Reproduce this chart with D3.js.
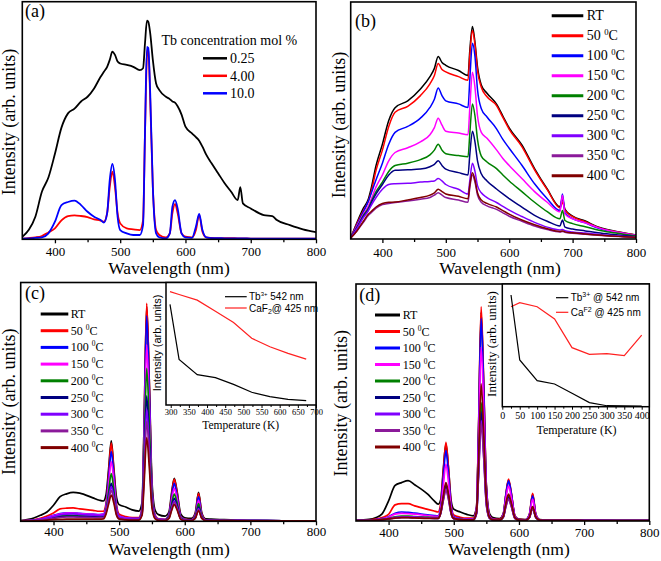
<!DOCTYPE html>
<html><head><meta charset="utf-8">
<script src="https://cdn.jsdelivr.net/npm/d3@7"></script>
<style>body{margin:0;background:#fff}svg{display:block}</style>
</head><body>
<svg id="chart" width="661" height="561"></svg>
<script>
// ---------- DATA ----------
const xTicks = [400, 500, 600, 700, 800];
const xMinor = [450, 550, 650, 750];
const concLabels = ["0.25", "4.00", "10.0"];
const concColors = ["#000000", "#ff0000", "#0000ff"];
const tempLabels = ["RT", "50", "100", "150", "200", "250", "300", "350", "400"];
const tempColors = ["#000000", "#ff0000", "#0000ff", "#ff00ff", "#008000", "#000080", "#8000ff", "#8b1a9a", "#800000"];

// panel (a)
const wlA = [350,360,370,380,390,400,410,420,430,440,450,460,470,475,480,484,488,492,496,500,510,520,530,535,538,541,543,546,550,555,560,570,576,580,584,588,594,600,610,616,621,626,632,640,650,660,670,680,684,688,700,720,733,740,760,780,800];
const a025 = [1,4,9.5,20,26,36,47,53,55,58,60,63.5,68.4,70.5,72.6,75.5,79,77.6,74.8,74,73.4,72.6,71.2,72,82.5,92,91.6,86.7,75.5,65.6,62.8,60,59,58,57.5,56,52.5,47.4,44.6,43,41.5,39,35.5,32,27.8,23.6,20,16.5,22,15.1,13,10.2,9.8,8.1,6,4.2,3];
const a400 = [0.3,0.5,0.8,1.4,2.9,4.6,8,9.8,10.1,9.8,9.3,8.4,7.9,7.4,11,22,28.5,22,11,6.7,4.6,4.2,3.9,8,44.6,76.9,80.4,58.6,22,3.9,1.8,0.8,2.5,11,14.9,11,2.5,1.1,0.8,3.9,10.2,3.2,0.8,0.6,0.5,0.5,0.5,0.4,0.4,0.4,0.3,0.3,0.3,0.3,0.3,0.3,0.3];
const a100 = [0.3,0.4,0.6,0.8,2.5,7.4,14.4,15.7,16.3,14.4,11.6,9.5,8.1,7,11,25,31.7,25,9.5,3.9,2.5,1.8,1.8,6,45,81,80.5,61.4,22,2.5,0.8,0.4,2.5,13.7,16.5,13,2.5,0.8,0.6,5.3,10.7,3.9,0.8,0.5,0.5,0.4,0.4,0.4,0.4,0.4,0.3,0.3,0.3,0.3,0.3,0.3,0.3];

// panel (b)
const wlB = [350,360,370,378,382,390,400,410,420,440,460,475,482,488,494,500,520,535,538,542,546,550,556,565,580,590,600,620,640,660,680,684,688,700,720,740,760,780,800];
const bRT  = [0.4,7,13,17,21,31,40,50,55.4,58.3,63.3,68.5,72,77,74.5,73.3,71.1,69,80,89.7,83,72.6,65,61.5,56.9,51.9,46.9,39.7,29.7,21.1,13.6,17,12.5,9.7,7.6,5.1,3.7,2.6,1.7];
const b50  = [0.4,6.5,12,16,19.5,29,37.5,47.5,53.5,56,60.5,65.5,69,74,71.5,70.5,68.5,67,78,88,82,71,64,60,56.3,51.3,46.3,39,29.2,20.8,13.2,15.5,12.2,9.4,7.3,4.9,3.5,2.5,1.6];
const b100 = [0.4,6,11.5,16,19,25,32,40,45,47.5,51,55.5,59,63.7,60.5,58.3,57,55.5,68,82.6,77,63,55,51.5,46.5,42,38.3,31.1,23.3,17,12,19,11,8.6,6.8,4.6,3.3,2.4,1.5];
const b150 = [0.4,5.5,10.5,14,16.5,22,27,33,36.5,38.5,41,44,47,51,48,45.5,44.7,44,56,70.4,64,52,45,42.5,37.6,34,31,25.5,20,15.5,11.5,18.5,10.5,8.5,6.8,4.8,3.4,2.4,1.5];
const b200 = [0.4,5,10,13,15.5,20,24,28.5,31,32,33.5,35.5,37.5,40,37.5,36,35.2,34.7,45,57,52,42,35,32.5,29.7,27,24.5,20,15.5,11.5,8.5,12,7.8,6.5,5.2,3.8,2.8,2,1.3];
const b250 = [0.4,4.8,9.5,12.5,15,19,23,27,29,29.2,29.5,30.5,31.5,33,31,29.5,28,27,36,45.5,41,33,27.5,24.5,21.1,19,17,13.5,10,7.5,5.5,8,5,4.2,3.4,2.6,2,1.5,1];
const b300 = [0.4,4.5,9,12,14,17.5,21,23,23.3,23.5,24,24.3,24.5,25.5,24.5,23,21,19,25,32,28.5,22.5,19.5,17.5,15.4,13.8,12.2,9.5,7,5,3.8,4,3.5,3,2.5,2,1.5,1.1,0.8];
const b350 = [0.4,3.5,7,10,11,13,14.5,15,15.4,16,16.8,17.5,18.5,19.5,18.5,17.5,16.5,15.5,22,27,24,18.5,15.5,14,12.5,11,9.6,7.5,5.5,4,3,3.2,2.8,2.4,2,1.6,1.2,0.9,0.6];
const b400 = [0.4,3.5,7.5,10.5,11.5,13.5,15,15.5,15.6,16.5,17.5,18.5,19.5,21,20,19,18,17,23,28,25,19.5,16.5,15,13.5,12,10.5,8,6,4.3,3.2,3.4,3,2.6,2.1,1.7,1.3,1,0.7];

// panels (c) and (d)
const wlCD = [350,370,380,390,400,410,420,430,440,460,470,476,480,484,488,492,496,500,510,520,530,535,538,542,546,550,555,560,570,576,580,584,588,594,600,610,616,621,626,632,640,660,680,700,750,800];
const cRT  = [0.3,1.4,2.5,3.9,6.7,10.3,11.5,12.1,11.8,9.8,8.8,8.5,11,22,33.7,22,10,7,6,4.8,4.3,8,40,90,58,17,4.5,2.8,2.2,4,12,18,13,3,1.5,1.2,3.5,12.1,3.5,1,0.9,0.7,0.5,0.3,0.2,0.2];
const c50  = [0.2,0.6,1.2,2.2,3.5,5.2,5.5,5.6,5.2,4.6,4.2,4.2,7.5,20,32.7,21,7,3,2,1.6,1.6,6,40,91.3,58,15,2.5,1,0.8,3,11,17.7,12.5,2,0.8,0.6,3,11.7,3,0.6,0.5,0.5,0.4,0.3,0.2,0.2];
const c100 = [0.2,0.5,0.9,1.6,2.5,3.2,3.5,3.5,3.3,3,2.8,3,6.5,18,29.2,19,6,2.2,1.4,1.2,1.2,5.5,37,86,55,14,2.2,0.9,0.7,2.8,10,15.9,11.2,1.8,0.7,0.5,2.6,10.3,2.6,0.5,0.5,0.4,0.4,0.3,0.2,0.2];
const c150 = [0.2,0.5,0.9,1.5,2.3,3,3.4,3.4,3.2,2.9,2.7,2.9,5.8,15.5,25,16.5,5.2,2,1.3,1.1,1.1,5,32,74,47,12,2,0.8,0.6,2.4,8.8,13.8,9.8,1.6,0.6,0.5,2.2,8.8,2.2,0.5,0.5,0.4,0.4,0.3,0.2,0.2];
const c200 = [0.2,0.4,0.7,1.1,1.7,2.2,2.5,2.5,2.4,2.2,2.1,2.2,4.8,12.5,20,13,4.2,1.6,1,0.9,0.9,4.3,28,64,41,10.5,1.7,0.7,0.5,2,7.3,11.4,8.1,1.3,0.5,0.4,1.9,7.4,1.9,0.4,0.4,0.4,0.3,0.3,0.2,0.2];
const c250 = [0.2,0.3,0.6,0.9,1.4,1.9,2.1,2.1,2,1.9,1.8,1.9,4,10,15.9,10.5,3.5,1.4,0.9,0.8,0.8,3.6,23,52.5,33.5,8.6,1.4,0.6,0.5,1.7,6.2,9.6,6.8,1.1,0.4,0.4,1.6,6,1.6,0.4,0.4,0.3,0.3,0.3,0.2,0.2];
const c300 = [0.2,0.4,0.8,1.3,2,2.7,3,3.1,2.9,2.6,2.5,2.6,4.3,9.5,14.5,9.8,3.8,1.8,1.2,1,1,3.5,21,47,30,7.8,1.6,0.7,0.5,1.6,5.5,8.4,6,1,0.5,0.4,1.4,5.3,1.4,0.4,0.4,0.3,0.3,0.3,0.2,0.2];
const c350 = [0.1,0.3,0.5,0.8,1.2,1.6,1.8,1.8,1.7,1.6,1.5,1.6,3.6,8.5,13,8.8,3,1.2,0.8,0.7,0.7,3,18.5,42,27,7,1.2,0.5,0.4,1.4,5.1,7.9,5.6,0.9,0.4,0.3,1.3,4.9,1.3,0.3,0.3,0.3,0.3,0.2,0.2,0.2];
const c400 = [0.1,0.2,0.3,0.5,0.7,0.8,0.9,0.9,0.9,0.9,0.9,1,3,7.2,11,7.5,2.5,0.9,0.6,0.5,0.5,2.6,15.5,35,22.5,5.8,1,0.4,0.3,1.2,4.5,7,5,0.8,0.3,0.3,1.2,4.4,1.2,0.3,0.3,0.3,0.2,0.2,0.2,0.2];

const dRT  = [0.3,0.7,1.4,3,8.5,15,16.2,17,15.3,11.3,8.5,7.1,9,22,32.5,22,8.5,5,3.8,2.8,2.2,6,38,88,56,15,3,1.5,1,3,11,17.2,12,2,0.8,0.6,2.5,11.2,2.5,0.6,0.5,0.5,0.4,0.3,0.2,0.2];
const d50  = [0.2,0.4,0.8,1.5,2.8,6.8,7.3,7.3,6.4,4.9,4.2,3.8,7.5,21,33.2,22,7,2.5,1.6,1.2,1.2,6,39,90.4,58,15,2.3,0.9,0.7,3,11.5,17.7,12.5,2,0.7,0.5,2.8,11.7,2.8,0.5,0.5,0.5,0.4,0.3,0.2,0.2];
const d100 = [0.2,0.3,0.6,1,1.8,3.3,3.8,3.6,3.3,2.6,2.3,2.2,6,18.5,29.7,19.5,6,1.8,1,0.8,0.8,5.5,37,85.5,55,14,2,0.7,0.5,2.8,11,16.9,12,1.8,0.6,0.5,2.6,10.6,2.6,0.5,0.4,0.4,0.3,0.3,0.2,0.2];
const d150 = [0.2,0.3,0.5,0.9,1.6,2.9,3.2,3.1,2.9,2.3,2,2,5,15,24,16,5,1.5,0.9,0.7,0.7,5,32,73.4,47,12,1.8,0.6,0.5,2.5,9.5,14.8,10.5,1.6,0.5,0.4,2.3,9.2,2.3,0.5,0.4,0.4,0.3,0.3,0.2,0.2];
const d200 = [0.2,0.3,0.4,0.7,1.1,1.8,2.1,2.1,1.9,1.6,1.4,1.4,3.6,10,15.5,10.5,3.4,1.1,0.7,0.5,0.5,3.6,22,50,32,8.2,1.3,0.5,0.4,1.8,7,10.6,7.4,1.2,0.4,0.3,1.5,5.6,1.5,0.4,0.3,0.3,0.3,0.2,0.2,0.2];
const d250 = [0.2,0.3,0.4,0.6,0.9,1.3,1.5,1.5,1.4,1.2,1.1,1.1,3.5,9.6,15,10.2,3.3,1,0.6,0.5,0.5,3.4,20.5,46,29.5,7.6,1.2,0.5,0.4,1.7,6.6,10,7,1.1,0.4,0.3,1.4,5.5,1.4,0.4,0.3,0.3,0.3,0.2,0.2,0.2];
const d300 = [0.2,0.3,0.4,0.6,1,1.5,1.8,1.8,1.7,1.4,1.3,1.3,3.3,8.9,13.4,9.2,3.1,1,0.6,0.5,0.5,3.2,19,42.4,27,7,1.1,0.5,0.4,1.6,6.2,9.2,6.5,1,0.4,0.3,1.4,5.5,1.4,0.4,0.3,0.3,0.3,0.2,0.2,0.2];
const d350 = [0.2,0.3,0.4,0.6,0.9,1.3,1.5,1.5,1.4,1.2,1.1,1.1,3.2,8.7,13,8.9,3,1,0.6,0.5,0.5,3.1,18.5,41,26.5,6.8,1.1,0.5,0.4,1.6,6,9,6.4,1,0.4,0.3,1.4,5.4,1.4,0.4,0.3,0.3,0.3,0.2,0.2,0.2];
const d400 = [0.2,0.3,0.4,0.6,0.9,1.2,1.4,1.4,1.3,1.1,1.1,1.1,3.6,10.5,16.2,11,3.5,1.1,0.6,0.5,0.5,4,25,57.9,37,9.5,1.4,0.5,0.4,1.9,7.4,11.3,7.9,1.3,0.4,0.3,1.6,6.1,1.6,0.4,0.3,0.3,0.3,0.2,0.2,0.2];

// insets
const insetTempC = [298,323,373,423,473,523,573,623,673];
const insetTbC   = [82.1,37.2,24.8,22.3,16.8,10.4,6.9,4.6,3.6];
const insetCaC   = [92.6,90.2,85.6,76.5,67.4,54.5,47.6,42.1,37.4];
const insetTicksC = [300,350,400,450,500,550,600,650,700];
const insetTempD = [25,50,100,150,200,250,300,350,400];
const insetTbD   = [91,38.1,21.2,18.5,11,3.3,0.8,0.6,0.5];
const insetCaD   = [81.5,84.8,81.5,71.5,48.1,42.7,43.2,41.6,58.4];
const insetTicksD = [0,50,100,150,200,250,300,350,400];

// ---------- DRAW ----------
const SERIF = "'Liberation Serif','Times New Roman',serif";
const SANS = "'Liberation Sans',Arial,sans-serif";
const svg = d3.select("#chart");
svg.append("rect").attr("width",661).attr("height",561).attr("fill","#fff");

function drawPanel(c) {
  const x = d3.scaleLinear().domain([350, 800]).range([c.x0, c.x1]);
  const y = d3.scaleLinear().domain([0, 100]).range([c.y1, c.y0]);
  const g = svg.append("g");
  g.append("clipPath").attr("id", "clip" + c.id).append("rect")
    .attr("x", c.x0).attr("y", c.y0).attr("width", c.x1 - c.x0).attr("height", c.y1 - c.y0);
  const lg = g.append("g").attr("clip-path", `url(#clip${c.id})`);
  const line = d3.line().x((d, j) => x(c.wl[j])).y(d => y(d)).curve(d3.curveMonotoneX);
  c.series.forEach((s, i) => {
    lg.append("path").datum(s).attr("d", line).attr("fill", "none")
      .attr("stroke", c.colors[i]).attr("stroke-width", c.sw || 1.7).attr("stroke-linejoin", "round");
  });
  const ax = g.append("g").attr("transform", `translate(0,${c.y1})`)
    .call(d3.axisBottom(x).tickValues(xTicks).tickSize(4).tickSizeOuter(0));
  ax.select(".domain").remove();
  ax.selectAll("line").attr("stroke", "#000").attr("stroke-width", 1.3);
  ax.selectAll("text").attr("font-family", SERIF).attr("font-size", 13).attr("fill", "#000")
    .attr("y", c.tickY - c.y1).attr("dy", null);
  const mx = g.append("g").attr("transform", `translate(0,${c.y1})`)
    .call(d3.axisBottom(x).tickValues(xMinor).tickSize(3).tickFormat(""));
  mx.select(".domain").remove();
  mx.selectAll("line").attr("stroke", "#000").attr("stroke-width", 1.3);
  g.append("rect").attr("x", c.x0).attr("y", c.y0).attr("width", c.x1 - c.x0).attr("height", c.y1 - c.y0)
    .attr("fill", "none").attr("stroke", "#000").attr("stroke-width", 1.6);
  g.append("text").attr("x", c.titleX).attr("y", c.titleY).attr("text-anchor", "middle")
    .attr("font-family", SERIF).attr("font-size", 17.5).text("Wavelength (nm)");
  g.append("text").attr("transform", `translate(${c.yTitleX},${c.yTitleY}) rotate(-90)`)
    .attr("text-anchor", "middle").attr("font-family", SERIF).attr("font-size", 18).text("Intensity (arb. units)");
  g.append("text").attr("x", c.labelX).attr("y", c.labelY).attr("font-family", SERIF)
    .attr("font-size", 18).text(c.label);
  return g;
}

function tempLegend(g, lx0, lx1, tx, ys, dy, fs) {
  tempLabels.forEach((t, i) => {
    const yy = ys + i * dy;
    g.append("line").attr("x1", lx0).attr("x2", lx1).attr("y1", yy).attr("y2", yy)
      .attr("stroke", tempColors[i]).attr("stroke-width", 3);
    const tt = g.append("text").attr("x", tx).attr("y", yy + fs * 0.34)
      .attr("font-family", SERIF).attr("font-size", fs);
    if (t === "RT") tt.text("RT");
    else {
      tt.append("tspan").text(t + " ");
      tt.append("tspan").attr("font-size", fs * 0.62).attr("dy", -fs * 0.42).text("0");
      tt.append("tspan").attr("dy", fs * 0.42).text("C");
    }
  });
}

function drawInset(c) {
  const g = svg.append("g");
  const x = d3.scaleLinear().domain(c.domain).range([c.x0, c.x1]);
  const y = d3.scaleLinear().domain([0, 100]).range([c.y1, c.y0]);
  g.append("rect").attr("x", c.x0).attr("y", c.y0).attr("width", c.x1 - c.x0).attr("height", c.y1 - c.y0)
    .attr("fill", "#fff").attr("stroke", "#000").attr("stroke-width", 1.5);
  const line = d3.line().x((d, j) => x(c.temps[j])).y(d => y(d));
  g.append("path").datum(c.ca).attr("d", line).attr("fill", "none").attr("stroke", "#ff2020").attr("stroke-width", 1.2);
  g.append("path").datum(c.tb).attr("d", line).attr("fill", "none").attr("stroke", "#000").attr("stroke-width", 1.2);
  const ax = g.append("g").attr("transform", `translate(0,${c.y1})`)
    .call(d3.axisBottom(x).tickValues(c.ticks).tickSize(3).tickSizeOuter(0));
  ax.select(".domain").remove();
  ax.selectAll("line").attr("stroke", "#000");
  ax.selectAll("text").attr("font-family", SERIF).attr("font-size", c.tickFs).attr("fill", "#000")
    .attr("y", c.tickY - c.y1).attr("dy", null);
  const mx = g.append("g").attr("transform", `translate(0,${c.y1})`)
    .call(d3.axisBottom(x).tickValues(c.ticks.slice(0, -1).map(v => v + 25)).tickSize(2).tickFormat(""));
  mx.select(".domain").remove();
  mx.selectAll("line").attr("stroke", "#000");
  g.append("text").attr("x", c.titleX).attr("y", c.titleY).attr("text-anchor", "middle")
    .attr("font-family", SERIF).attr("font-size", c.titleFs).text("Temperature (K)");
  g.append("text").attr("transform", `translate(${c.yTitleX},${c.yTitleY}) rotate(-90)`)
    .attr("text-anchor", "middle").attr("font-family", c.yTitleFont).attr("font-size", c.yTitleFs)
    .text("Intensity (arb. units)");
  // legend
  [["#000", c.ly0], ["#ff2020", c.ly1]].forEach(([col, yy]) => {
    g.append("line").attr("x1", c.lx0).attr("x2", c.lx1).attr("y1", yy).attr("y2", yy)
      .attr("stroke", col).attr("stroke-width", 1.2);
  });
  const t1 = g.append("text").attr("x", c.tx).attr("y", c.ly0 + 3.5).attr("font-family", SANS).attr("font-size", 10);
  t1.append("tspan").text("Tb");
  t1.append("tspan").attr("font-size", c.supFs).attr("dy", -4).text("3+");
  t1.append("tspan").attr("dy", 4).text(c.tbText);
  const t2 = g.append("text").attr("x", c.tx).attr("y", c.ly1 + 3.5).attr("font-family", SANS).attr("font-size", 10);
  c.caParts(t2);
}

// (a)
const gA = drawPanel({id: "a", x0: 22.3, x1: 316, y0: 1.7, y1: 239.3, wl: wlA,
  series: [a025, a400, a100], colors: concColors, sw: 1.8,
  tickY: 256.5, titleX: 169, titleY: 274, yTitleX: 14.5, yTitleY: 122, label: "(a)", labelX: 25, labelY: 17});
gA.append("text").attr("x", 161.5).attr("y", 45).attr("font-family", SERIF).attr("font-size", 14)
  .text("Tb concentration mol %");
concLabels.forEach((t, i) => {
  const yy = 58.3 + i * 17.5;
  gA.append("line").attr("x1", 203).attr("x2", 227).attr("y1", yy).attr("y2", yy)
    .attr("stroke", concColors[i]).attr("stroke-width", 2.5);
  gA.append("text").attr("x", 230).attr("y", yy + 5).attr("font-family", SERIF).attr("font-size", 14).text(t);
});

// (b)
const gB = drawPanel({id: "b", x0: 350.7, x1: 636, y0: 2, y1: 239, wl: wlB,
  series: [bRT, b50, b100, b150, b200, b250, b300, b350, b400], colors: tempColors, sw: 1.5,
  tickY: 256.5, titleX: 500, titleY: 274, yTitleX: 344.5, yTitleY: 125, label: "(b)", labelX: 355, labelY: 27});
tempLegend(gB, 551.7, 583.3, 586.7, 15.7, 20, 14);

// (c)
const gC = drawPanel({id: "c", x0: 20.7, x1: 316, y0: 282.5, y1: 521.3, wl: wlCD,
  series: [cRT, c50, c100, c150, c200, c250, c300, c350, c400], colors: tempColors, sw: 1.7,
  tickY: 536.5, titleX: 169, titleY: 554.5, yTitleX: 15, yTitleY: 401.7, label: "(c)", labelX: 25, labelY: 299});
tempLegend(gC, 40.7, 68.3, 70.7, 314, 16.7, 12);
drawInset({x0: 166, x1: 316, y0: 282.5, y1: 405, domain: [287, 700], temps: insetTempC,
  tb: insetTbC, ca: insetCaC, ticks: insetTicksC, tickFs: 8.5, tickY: 414.5, titleX: 240.7, titleY: 428.5, titleFs: 11.5,
  yTitleX: 161, yTitleY: 343, yTitleFont: SANS, yTitleFs: 11,
  lx0: 225, lx1: 246.7, ly0: 296.7, ly1: 308, tx: 249, supFs: 6, tbText: " 542 nm",
  caParts: t => { t.append("tspan").text("CaF"); t.append("tspan").attr("font-size", 7).attr("dy", 2.5).text("2");
                  t.append("tspan").attr("dy", -2.5).text("@ 425 nm"); }});

// (d)
const gD = drawPanel({id: "d", x0: 356, x1: 649.3, y0: 284, y1: 521, wl: wlCD,
  series: [dRT, d50, d100, d150, d200, d250, d300, d350, d400], colors: tempColors, sw: 1.7,
  tickY: 536.5, titleX: 509, titleY: 554.5, yTitleX: 347, yTitleY: 403.3, label: "(d)", labelX: 359.3, labelY: 301});
tempLegend(gD, 375, 400, 402.7, 315, 16.5, 12);
drawInset({x0: 502.3, x1: 649.3, y0: 284, y1: 406.7, domain: [0, 421.8], temps: insetTempD,
  tb: insetTbD, ca: insetCaD, ticks: insetTicksD, tickFs: 10, tickY: 419.5, titleX: 576.5, titleY: 433.5, titleFs: 12,
  yTitleX: 496, yTitleY: 344, yTitleFont: SERIF, yTitleFs: 13,
  lx0: 556, lx1: 568.3, ly0: 297.7, ly1: 312.3, tx: 570.7, supFs: 7, tbText: " @ 542 nm",
  caParts: t => { t.append("tspan").text("Ca"); t.append("tspan").attr("font-size", 7).attr("dy", -4).text("F2");
                  t.append("tspan").attr("dy", 4).text(" @ 425 nm"); }});
</script>
</body></html>
